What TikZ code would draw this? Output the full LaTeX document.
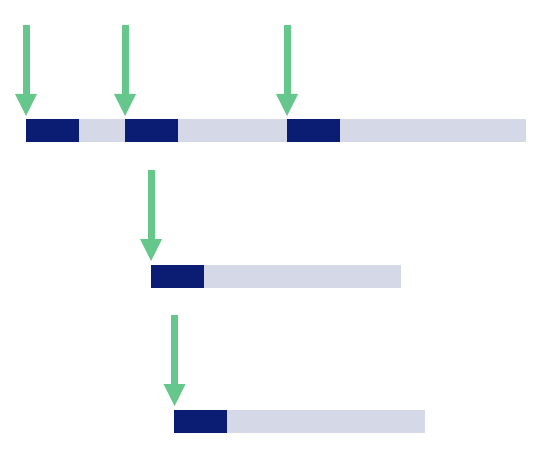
\documentclass[tikz,border=0pt]{standalone}
\usetikzlibrary{arrows.meta}
\definecolor{navy}{HTML}{0A1D73}
\definecolor{lightbar}{HTML}{D5D8E7}
\definecolor{arrowgreen}{HTML}{66C78C}
\tikzset{
  lightseg/.style={fill=lightbar, draw=none, inner sep=0pt, outer sep=0pt, minimum height=23pt, anchor=north west},
  darkseg/.style={fill=navy, draw=none, inner sep=0pt, outer sep=0pt, minimum height=23pt, minimum width=53pt, anchor=north west},
  pointer/.style={draw=arrowgreen, line width=7pt, -{Triangle[width=22pt,length=22pt,line width=0pt,fill=arrowgreen]}, shorten >=3.5pt}
}
\begin{document}
\begin{tikzpicture}[x=1pt,y=-1pt]
\useasboundingbox (0,0) rectangle (546,457);
% row 1
\node[lightseg, minimum width=500pt] (l1) at (26,119.5) {};
\node[darkseg] (d1) at (26,119.5) {};
\node[darkseg] (d2) at (125,119.5) {};
\node[darkseg] (d3) at (287,119.5) {};
% row 2
\node[lightseg, minimum width=250pt] (l2) at (151,264.5) {};
\node[darkseg, minimum width=52.5pt] (d4) at (151,264.5) {};
% row 3
\node[lightseg, minimum width=250.5pt] (l3) at (174,409.5) {};
\node[darkseg, minimum width=53pt] (d5) at (174,409.5) {};
% arrow tops
\coordinate (t1) at (26,25);
\coordinate (t2) at (125,25);
\coordinate (t3) at (287,25);
\coordinate (t4) at (151,170);
\coordinate (t5) at (174.5,315);
\draw[pointer] (t1) -- (d1.north west);
\draw[pointer] (t2) -- (d2.north west);
\draw[pointer] (t3) -- (d3.north west);
\draw[pointer] (t4) -- (d4.north west);
\draw[pointer] (t5) -- (d5.north west -| t5);
\end{tikzpicture}
\end{document}
